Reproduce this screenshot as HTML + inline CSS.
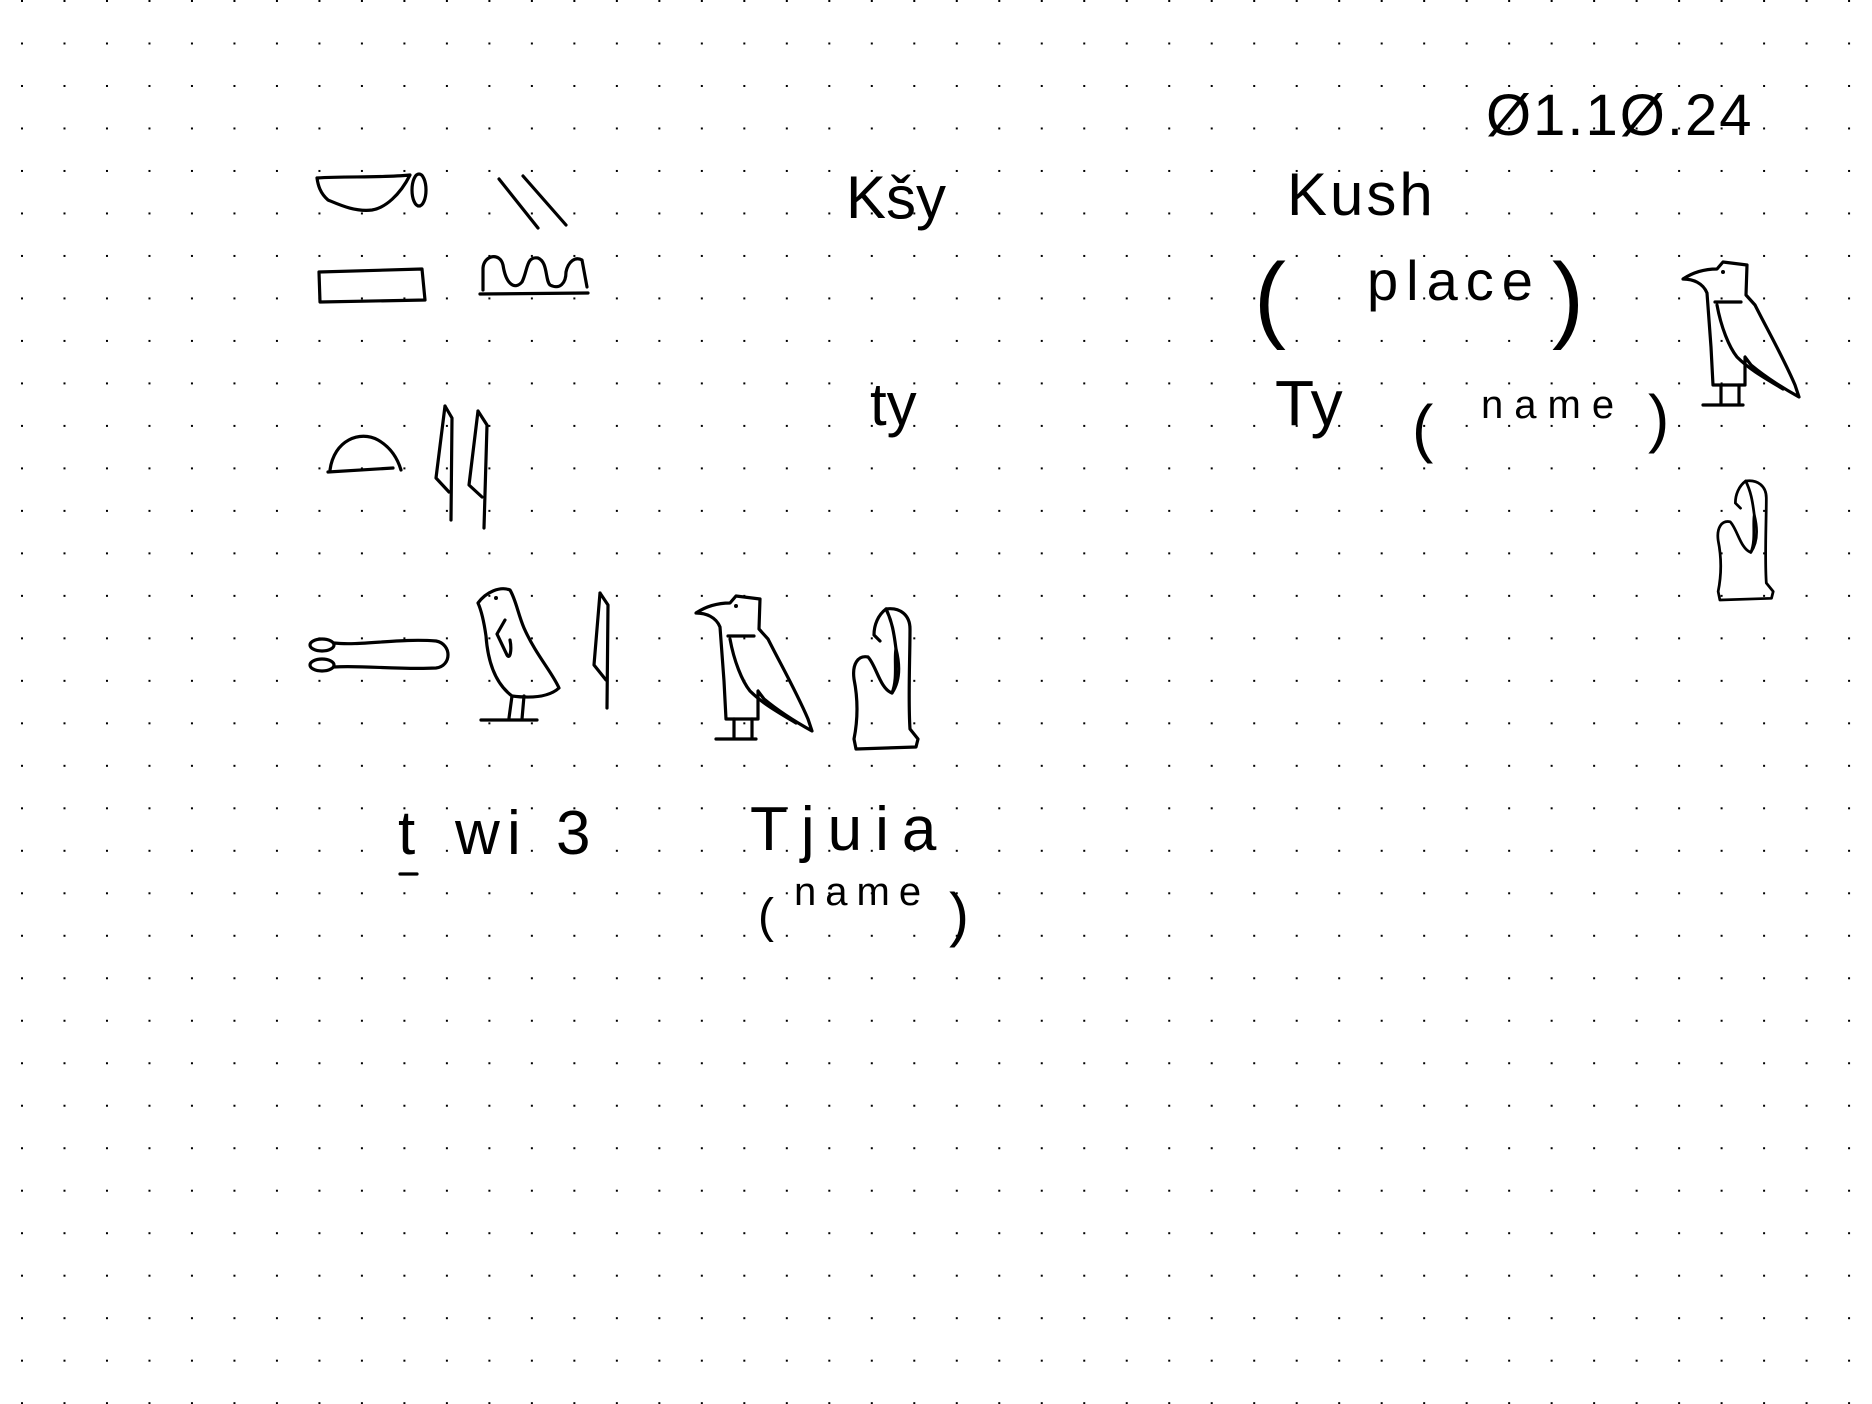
<!DOCTYPE html>
<html><head><meta charset="utf-8"><title>Hieroglyph notes</title>
<style>
html,body{margin:0;padding:0;background:#fff;}
svg{display:block;}
.s{fill:none;stroke:#000;stroke-width:3.2;stroke-linecap:round;stroke-linejoin:round;}
.t{font-family:"Liberation Sans",sans-serif;fill:#000;}
</style></head>
<body>
<svg width="1872" height="1404" viewBox="0 0 1872 1404">
<defs>
<pattern id="dots" x="21" y="0" width="42.49" height="42.49" patternUnits="userSpaceOnUse">
<rect x="0" y="0" width="2" height="2" fill="#000"/>
</pattern>
<g id="vulture">
<path class="s" d="M0,22 C12,14 24,12 34,12 L40,5 L64,8 L63,38 L72,48 C84,72 100,100 112,128 L116,140 C98,130 80,118 68,108 L62,100 L62,128 L30,128 L28,90 L24,36 C20,26 10,22 0,22 Z"/>
<path class="s" d="M32,45 L58,45 M34,48 C38,70 46,90 54,100 C66,112 80,120 100,132"/>
<path class="s" d="M38,128 L38,146 M56,128 L56,146 M20,148 L60,148"/>
<circle cx="40" cy="15" r="2" fill="#000"/>
</g>
<g id="woman">
<path class="s" d="M38,0 C52,-2 62,6 62,20 C62,50 60,90 62,120 L70,130 L68,138 L8,140 L6,130 C10,110 10,90 6,70 C4,55 10,46 20,48 C28,56 32,80 44,84 C50,70 46,50 48,40 C46,24 44,12 38,0 Z"/>
<path class="s" d="M38,0 C30,6 26,16 26,26 L32,32 M48,40 C52,56 52,72 44,84"/>
</g>
</defs>
<rect width="1872" height="1404" fill="url(#dots)"/>

<!-- first row of glyphs -->
<g>
<path class="s" d="M317,178 C345,176 380,178 410,175 C400,195 385,208 372,210 C355,212 340,205 328,200 C320,193 318,185 317,178 Z"/>
<ellipse class="s" cx="419" cy="190" rx="7" ry="16"/>
</g>
<g>
<path class="s" d="M499,179 L538,228 M523,176 L566,225"/>
</g>
<g>
<path class="s" d="M319,272 L422,269 L425,300 L320,302 Z"/>
</g>
<g>
<path class="s" d="M480,294 L588,293 M483,290 L483,268 C484,255 500,252 503,265 C506,285 515,290 522,282 C528,270 526,256 538,258 C548,262 545,280 550,285 C560,290 566,283 566,272 C568,262 575,256 582,260 L587,287"/>
</g>
<text class="t" x="846" y="218" font-size="60">Kšy</text>
<text class="t" x="1287" y="215" font-size="60" letter-spacing="3">Kush</text>
<text class="t" x="1486" y="135" font-size="58" letter-spacing="2">Ø1.1Ø.24</text>

<!-- second row -->
<g>
<path class="s" d="M328,472 L393,468 M330,470 C334,440 360,430 378,440 C392,448 398,460 401,470"/>
</g>
<g>
<path class="s" d="M445,406 L436,478 L449,492 M445,406 L452,418 L451,520"/>
<path class="s" d="M478,411 L469,485 L482,497 M478,411 L487,425 L484,528"/>
</g>
<text class="t" x="870" y="425" font-size="60">ty</text>
<text class="t" x="1254" y="330" font-size="96">(</text>
<text class="t" x="1367" y="300" font-size="56" letter-spacing="8">place</text>
<text class="t" x="1552" y="330" font-size="96">)</text>
<text class="t" x="1275" y="425" font-size="64">Ty</text>
<text class="t" x="1412" y="450" font-size="64">(</text>
<text class="t" x="1481" y="418" font-size="40" letter-spacing="11">name</text>
<text class="t" x="1648" y="440" font-size="64">)</text>
<use href="#vulture" transform="translate(1683,257)"/>
<use href="#woman" transform="translate(1713,481) scale(0.86,0.85)"/>

<!-- third row -->
<g>
<ellipse class="s" cx="322" cy="645" rx="12" ry="6"/>
<ellipse class="s" cx="322" cy="665" rx="12" ry="6"/>
<path class="s" d="M334,643 C360,646 400,638 436,641 C452,644 452,666 436,668 C400,670 360,665 334,667"/>
</g>
<g>
<path class="s" d="M478,603 C486,592 500,586 510,590 C516,600 518,614 524,628 C536,655 552,672 559,688 C548,698 528,698 512,696 C496,684 488,664 486,636 C484,622 482,612 478,603 Z"/>
<path class="s" d="M505,620 L497,634 L507,655 C510,660 512,650 510,640 M512,696 L509,718 M524,696 L522,719 M481,720 L537,720"/>
<circle cx="496" cy="598" r="2" fill="#000"/>
</g>
<g>
<path class="s" d="M600,593 L594,665 L606,680 M600,593 L608,605 L607,708"/>
</g>
<use href="#vulture" transform="translate(696,591)"/>
<use href="#woman" transform="translate(848,609)"/>

<g>
<text class="t" x="398" y="854" font-size="62">t</text>
<text class="t" x="455" y="854" font-size="62">w</text>
<text class="t" x="507" y="854" font-size="62">i</text>
<text class="t" x="556" y="854" font-size="62">3</text>
</g>
<path class="s" d="M400,874 L417,874"/>
<text class="t" x="750" y="850" font-size="62" letter-spacing="13">Tjuia</text>
<text class="t" x="758" y="932" font-size="48">(</text>
<text class="t" x="794" y="905" font-size="40" letter-spacing="9">name</text>
<text class="t" x="949" y="935" font-size="60">)</text>
</svg>
</body></html>
